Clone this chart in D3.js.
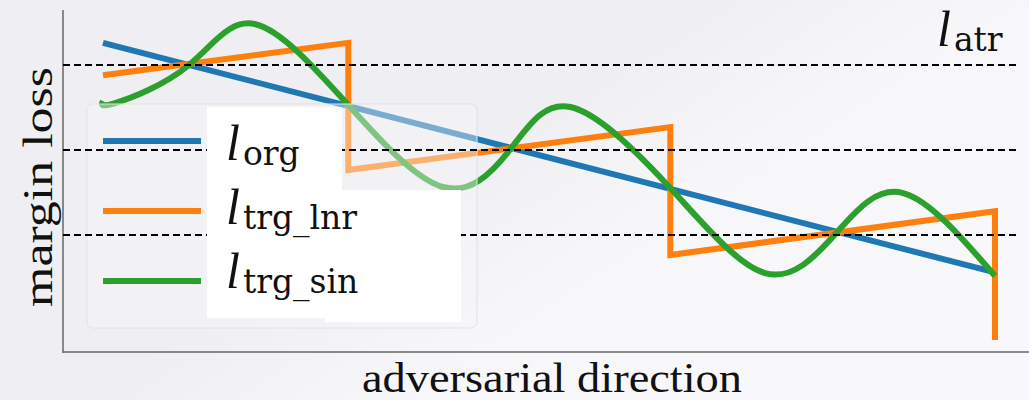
<!DOCTYPE html>
<html>
<head>
<meta charset="utf-8">
<script src="https://cdn.jsdelivr.net/npm/d3@7"></script>
<style>
  body { margin: 0; background: #f4f4f7; }
  svg { display: block; }
</style>
</head>
<body>
<svg id="chart" width="1029" height="400"></svg>
<script>
// data: t = position along the adversarial direction (0..1), v = margin loss
var orgLoss = [[0, 1.26], [1, -1.44]];
var lnrLoss = [[0, 0.88], [0.275, 1.26], [0.275, -0.235], [0.636, 0.27], [0.636, -1.235], [1, -0.72], [1, -2.235]];
var sinLoss = [[0, 0.576], [0.0135, 0.553], [0.095, 0.988], [0.170, 1.482],
               [0.275, 0.529], [0.381, -0.435], [0.456, 0],
               [0.524, 0.506], [0.636, -0.447], [0.742, -1.447],
               [0.821, -0.988], [0.897, -0.506], [1, -1.482]];
var atrLevels = [1, 0, -1];
var seriesNames = ["org", "trg_lnr", "trg_sin"];
var seriesColors = ["#1f77b4", "#ff7f0e", "#2ca02c"];
var xLabel = "adversarial direction";
var yLabel = "margin loss";
var atrName = "atr";

var svg = d3.select("#chart");

var x = d3.scaleLinear().domain([0, 1]).range([103, 995]);
var y = d3.scaleLinear().domain([-2.376, 1.647]).range([352, 10]);

// background, a bit darker on the left like the photo
var defs = svg.append("defs");
var grad = defs.append("linearGradient").attr("id", "bg")
    .attr("x1", "0").attr("y1", "0").attr("x2", "1").attr("y2", "0.6");
grad.append("stop").attr("offset", "0.5").attr("stop-color", "#efeff3");
grad.append("stop").attr("offset", "0.72").attr("stop-color", "#f7f7f9");
grad.append("stop").attr("offset", "1").attr("stop-color", "#f8f8fa");
svg.append("rect").attr("width", 1029).attr("height", 400).attr("fill", "url(#bg)");

// spines
svg.append("line").attr("x1", 63).attr("x2", 63).attr("y1", 10).attr("y2", 353)
    .attr("stroke", "#666").attr("stroke-width", 1.5);
svg.append("line").attr("x1", 63).attr("x2", 1029).attr("y1", 352).attr("y2", 352)
    .attr("stroke", "#666").attr("stroke-width", 1.5);

var lineLin = d3.line().x(function(d) { return x(d[0]); }).y(function(d) { return y(d[1]); });
var lineSmooth = d3.line().curve(d3.curveNatural)
    .x(function(d) { return x(d[0]); }).y(function(d) { return y(d[1]); });

svg.append("path").attr("d", lineLin(orgLoss)).attr("fill", "none")
    .attr("stroke", seriesColors[0]).attr("stroke-width", 6);
svg.append("path").attr("d", lineLin(lnrLoss)).attr("fill", "none")
    .attr("stroke", seriesColors[1]).attr("stroke-width", 6);
svg.append("path").attr("d", lineSmooth(sinLoss)).attr("fill", "none")
    .attr("stroke", seriesColors[2]).attr("stroke-width", 6);

// legend frame (semi transparent)
svg.append("rect").attr("x", 87).attr("y", 104).attr("width", 390).attr("height", 224)
    .attr("rx", 6).attr("fill", "#f6f6f8").attr("fill-opacity", 0.42)
    .attr("stroke", "#e2e2e6").attr("stroke-width", 1);

var handleY = [141, 211, 281];
svg.selectAll("line.handle").data(seriesColors).enter().append("line")
    .attr("class", "handle")
    .attr("x1", 103).attr("x2", 201)
    .attr("y1", function(d, i) { return handleY[i]; })
    .attr("y2", function(d, i) { return handleY[i]; })
    .attr("stroke", function(d) { return d; }).attr("stroke-width", 6);

// attack levels
svg.selectAll("line.atr").data(atrLevels).enter().append("line")
    .attr("class", "atr")
    .attr("x1", 63).attr("x2", 1017)
    .attr("y1", function(d) { return y(d); }).attr("y2", function(d) { return y(d); })
    .attr("stroke", "#000").attr("stroke-width", 2).attr("stroke-dasharray", "7,4");

// pasted white label boxes
svg.append("rect").attr("x", 207).attr("y", 107).attr("width", 135).attr("height", 84).attr("fill", "#fff");
svg.append("rect").attr("x", 207).attr("y", 190).attr("width", 254).attr("height", 128).attr("fill", "#fff");
svg.append("rect").attr("x", 325).attr("y", 300).attr("width", 136).attr("height", 22).attr("fill", "#fff");

function mathLabel(g, sub, lx, ly) {
  var t = g.append("text").attr("x", lx).attr("y", ly).attr("fill", "#111");
  t.append("tspan").attr("font-family", "Liberation Serif").attr("font-style", "italic")
      .attr("font-size", 50).text("l");
  t.append("tspan").attr("font-family", "DejaVu Serif").attr("font-size", 33)
      .attr("dx", 3).attr("dy", 5).text(sub);
}
var labelY = [160, 224, 288];
seriesNames.forEach(function(n, i) { mathLabel(svg, n, 226, labelY[i]); });
mathLabel(svg, atrName, 937, 46);

svg.append("text").attr("x", 362).attr("y", 392)
    .attr("font-family", "Liberation Serif").attr("font-size", 42)
    .attr("textLength", 380).attr("lengthAdjust", "spacingAndGlyphs")
    .attr("fill", "#111").text(xLabel);

svg.append("text").attr("transform", "translate(52,307) rotate(-90)")
    .attr("font-family", "Liberation Serif").attr("font-size", 42)
    .attr("textLength", 240).attr("lengthAdjust", "spacingAndGlyphs")
    .attr("fill", "#111").text(yLabel);
</script>
</body>
</html>
